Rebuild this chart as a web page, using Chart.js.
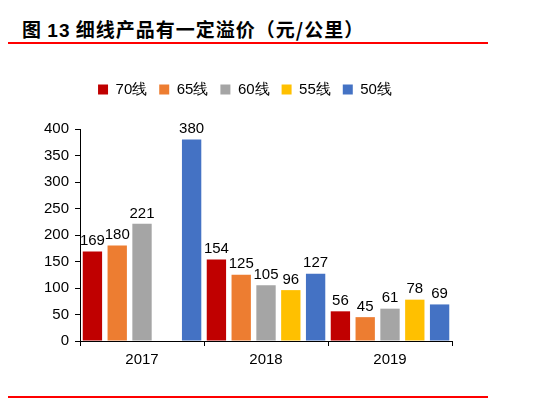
<!DOCTYPE html>
<html><head><meta charset="utf-8">
<script src="https://cdn.jsdelivr.net/npm/chart.js@4"></script>
<style>
body{margin:0;width:552px;height:402px;background:#fff;position:relative;overflow:hidden;font-family:"Liberation Sans",Arial,sans-serif}
#title{position:absolute;left:22px;top:15px;font-size:19px;font-weight:bold;font-family:"Noto Sans CJK SC",sans-serif;color:#000;letter-spacing:1px}
.rl{position:absolute;left:8px;width:480px;height:2px;background:#f00}
#wrap{position:absolute;left:0;top:70px;width:552px;height:310px}
</style></head><body>
<div id="title">图 <span style="font-family:'Liberation Sans'">13</span> 细线产品有一定溢价（元/公里）</div>
<div class="rl" style="top:42px"></div>
<div class="rl" style="top:396px"></div>
<div id="wrap"><canvas id="c"></canvas></div>
<script>
const categories=["2017","2018","2019"];
const seriesNames=["70线","65线","60线","55线","50线"];
const colors=["#C00000","#ED7D31","#A5A5A5","#FFC000","#4472C4"];
const s70=[169,154,56];
const s65=[180,125,45];
const s60=[221,105,61];
const s55=[null,96,78];
const s50=[380,127,69];
const yTicks=[0,50,100,150,200,250,300,350,400];
const all=[s70,s65,s60,s55,s50];
const F='"Liberation Sans", Arial';
const labelPlugin={id:'lbl',
beforeInit(ch){const f=ch.legend.fit;ch.legend.fit=function(){f.call(this);this.height+=22;};},
afterDatasetsDraw(ch){const ctx=ch.ctx;ctx.save();ctx.fillStyle='#000';ctx.font='15px '+F;ctx.textAlign='center';ctx.textBaseline='bottom';
ch.data.datasets.forEach((d,i)=>{ch.getDatasetMeta(i).data.forEach((b,j)=>{if(d.data[j]==null)return;ctx.fillText(d.data[j],b.x,b.y-3);});});ctx.restore();}};
new Chart(document.getElementById('c'),{type:'bar',
data:{labels:categories,datasets:all.map((d,i)=>({label:seriesNames[i],data:d,backgroundColor:colors[i],barPercentage:0.78,categoryPercentage:1}))},
options:{responsive:true,maintainAspectRatio:false,animation:false,
layout:{padding:{left:38,right:100,top:0,bottom:6}},
plugins:{tooltip:{enabled:false},legend:{labels:{boxWidth:10,boxHeight:10,padding:12,color:'#000',font:{size:15,family:F}}}},
scales:{x:{grid:{display:true,drawOnChartArea:false,color:'#000',tickLength:5},border:{color:'#000'},ticks:{color:'#000',font:{size:15,family:F},padding:5}},
y:{min:0,max:400,afterBuildTicks(a){a.ticks=yTicks.map(v=>({value:v}));},grid:{display:true,drawOnChartArea:false,color:'#000',tickLength:5},border:{color:'#000'},ticks:{color:'#000',font:{size:15,family:F},padding:6}}}}
,plugins:[labelPlugin]});
</script></body></html>
